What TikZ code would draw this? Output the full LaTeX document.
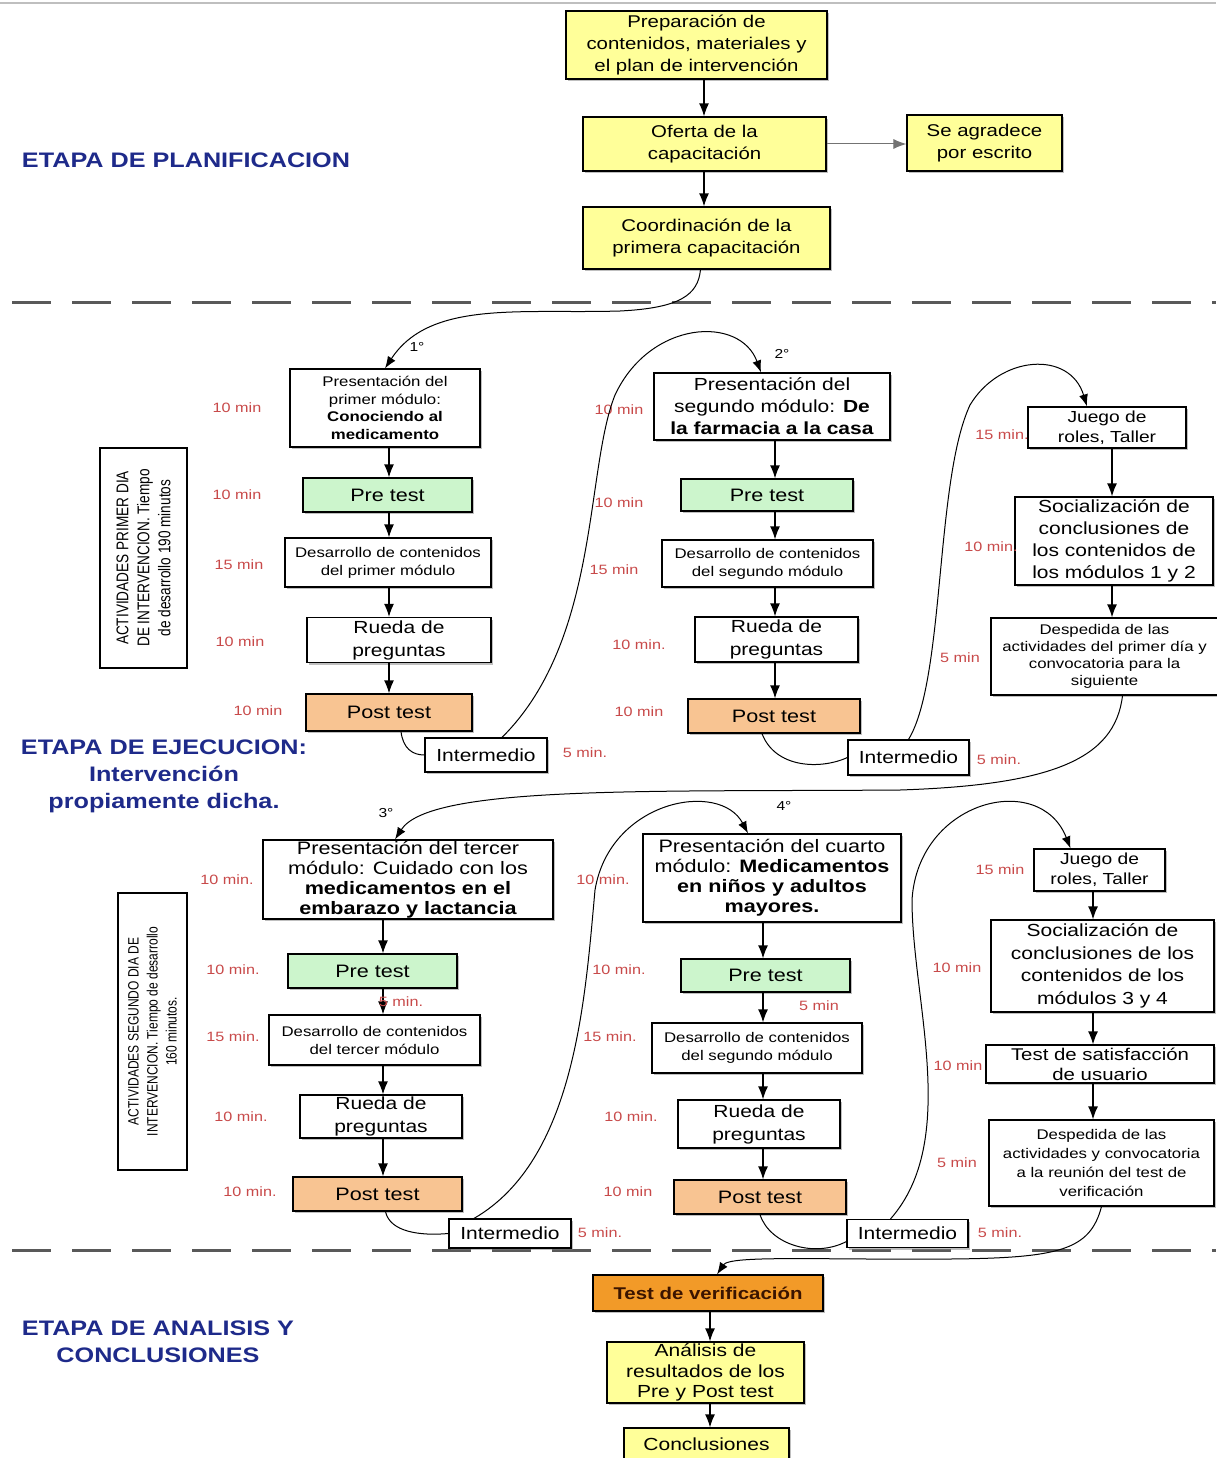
\documentclass[tikz,border=0pt]{standalone}
\usepackage{fontspec}
\setmainfont{Liberation Sans}[FakeStretch=1.2]
\newfontfamily\narrowsf{Liberation Sans}[FakeStretch=0.8]
\usetikzlibrary{arrows.meta,shadows}
\definecolor{yelfill}{HTML}{FFFF99}
\definecolor{grnfill}{HTML}{CCF5CC}
\definecolor{orgfill}{HTML}{F8C492}
\definecolor{tstfill}{HTML}{F29A28}
\definecolor{tsttext}{HTML}{3A1400}
\definecolor{headblue}{HTML}{1E2A8A}
\definecolor{minred}{HTML}{C84A4A}
\newcommand{\tbf}[1]{\textbf{#1}}
\newcommand{\fs}[2]{\fontsize{#1}{#2}\selectfont}

\begin{document}
\begin{tikzpicture}[x=1pt, y=-1pt, >={Latex[length=13pt,width=10pt]},
    box/.style={draw=black, line width=1.2pt, align=center, inner sep=1pt,
      drop shadow={shadow xshift=2pt, shadow yshift=-2pt, fill=black!50}},
    yel/.style={box, fill=yelfill},
    grn/.style={box, fill=grnfill},
    org/.style={box, fill=orgfill},
    wht/.style={box, fill=white},
    flow/.style={->, line width=1.3pt},
    curvearrow/.style={->, line width=1pt, >={Latex[length=12pt,width=9pt]}},
    curveline/.style={line width=1pt},
    tmin/.style={text=minred, font=\fs{13.5}{15}},
    stagehead/.style={text=headblue, align=center, font=\bfseries\fs{21}{27}},
    numlab/.style={font=\fs{13}{15}},
    sepline/.style={draw=black!65, line width=3pt, dash pattern=on 39pt off 21pt},
    sidebox/.style={draw=black, line width=1.1pt, align=center, rotate=90}]
  \useasboundingbox (0,0) rectangle (1216,1458);

  \draw [black!25, line width=2pt] (0,3) -- (1216,3);
  \draw [sepline] (12,302) -- (1216,302);
  \draw [sepline] (12,1250) -- (1216,1250);

  \node [stagehead, name=hplan] at (186,160) {ETAPA DE PLANIFICACION};
  \node [stagehead, name=hejec] at (164,776) {ETAPA DE EJECUCION:\\Intervención\\propiamente dicha.};
  \node [stagehead, name=hanal] at (158,1342) {ETAPA DE ANALISIS Y\\CONCLUSIONES};

  \coordinate (k0) at (704,0);
  \coordinate (k1) at (389,0);
  \coordinate (k2) at (775,0);
  \coordinate (k3) at (1112,0);
  \coordinate (k4) at (383,0);
  \coordinate (k5) at (763,0);
  \coordinate (k6) at (1093,0);
  \coordinate (k7) at (710,0);

  % planificacion
  \node [yel, minimum width=261, minimum height=68, font=\fs{17}{22}, name=prep] at (696.5,45)
    {Preparación de\\contenidos, materiales y\\el plan de intervención};
  \node [yel, minimum width=243, minimum height=54, font=\fs{17}{22}, name=oferta] at (704.5,144)
    {Oferta de la\\capacitación};
  \node [yel, minimum width=155, minimum height=56, font=\fs{17}{22}, name=agrad] at (984.5,143)
    {Se agradece\\por escrito};
  \node [yel, minimum width=247, minimum height=62, font=\fs{17}{22}, name=coord] at (706.5,238)
    {Coordinación de la\\primera capacitación};

  \draw [flow] (prep.south -| k0) -- (oferta.north -| k0);
  \draw [flow] (oferta.south -| k0) -- (coord.north -| k0);
  \draw [->, black!55, line width=1pt] (oferta.east) -- (oferta.east -| agrad.west);

  % primer dia
  \node [sidebox, minimum width=220, minimum height=87, font=\narrowsf\fs{17}{21}, name=side1] at (143.5,558)
    {ACTIVIDADES PRIMER DIA\\DE INTERVENCION. Tiempo\\de desarrollo 190 minutos};

  \node [wht, minimum width=190, minimum height=78, font=\fs{14}{17.5}, name=p1] at (385,408)
    {Presentación del\\primer módulo:\\\tbf{Conociendo al}\\\tbf{medicamento}};
  \node [grn, minimum width=169, minimum height=34, font=\fs{18}{22}, name=pre1] at (387.5,495) {Pre test};
  \node [wht, minimum width=206, minimum height=49, font=\fs{14}{18}, name=des1] at (388,562.5)
    {Desarrollo de contenidos\\del primer módulo};
  \node [wht, minimum width=184, minimum height=45, font=\fs{17.5}{23}, name=rueda1] at (399,640)
    {Rueda de\\preguntas};
  \node [org, minimum width=166, minimum height=37, font=\fs{18}{22}, name=post1] at (389,712.5) {Post test};
  \node [wht, minimum width=122, minimum height=34, font=\fs{17.5}{22}, name=inter1] at (486,755) {Intermedio};

  \node [wht, minimum width=236, minimum height=67, font=\fs{17.5}{22}, name=p2] at (772,406.5)
    {Presentación del\\segundo módulo: \tbf{De}\\\tbf{la farmacia a la casa}};
  \node [grn, minimum width=172, minimum height=32, font=\fs{18}{22}, name=pre2] at (767,495) {Pre test};
  \node [wht, minimum width=211, minimum height=47, font=\fs{14}{18}, name=des2] at (767.5,563.5)
    {Desarrollo de contenidos\\del segundo módulo};
  \node [wht, minimum width=163, minimum height=45, font=\fs{17.5}{23}, name=rueda2] at (776.5,639.5)
    {Rueda de\\preguntas};
  \node [org, minimum width=172, minimum height=34, font=\fs{18}{22}, name=post2] at (774,716) {Post test};
  \node [wht, minimum width=121, minimum height=35, font=\fs{17.5}{22}, name=inter2] at (908.5,757.5) {Intermedio};

  \node [wht, minimum width=158, minimum height=41, font=\fs{16}{20}, name=juego1] at (1107,427.5)
    {Juego de\\roles, Taller};
  \node [wht, minimum width=198, minimum height=88, font=\fs{17.5}{22}, name=soc1] at (1114,541)
    {Socialización de\\conclusiones de\\los contenidos de\\los módulos 1 y 2};
  \node [wht, minimum width=227, minimum height=77, font=\fs{14}{17}, name=desp1] at (1104.5,656.5)
    {Despedida de las\\actividades del primer día y\\convocatoria para la\\siguiente};

  \draw [flow] (p1.south -| k1) -- (pre1.north -| k1);
  \draw [flow] (pre1.south -| k1) -- (des1.north -| k1);
  \draw [flow] (des1.south -| k1) -- (rueda1.north -| k1);
  \draw [flow] (rueda1.south -| k1) -- (post1.north -| k1);
  \draw [flow] (p2.south -| k2) -- (pre2.north -| k2);
  \draw [flow] (pre2.south -| k2) -- (des2.north -| k2);
  \draw [flow] (des2.south -| k2) -- (rueda2.north -| k2);
  \draw [flow] (rueda2.south -| k2) -- (post2.north -| k2);
  \draw [flow] (juego1.south -| k3) -- (soc1.north -| k3);
  \draw [flow] (soc1.south -| k3) -- (desp1.north -| k3);

  \node [tmin, name=m1a] at (237,408) {10 min};
  \node [tmin, name=m1b] at (237,495) {10 min};
  \node [tmin, name=m1c] at (239,565) {15 min};
  \node [tmin, name=m1d] at (240,642) {10 min};
  \node [tmin, name=m1e] at (258,711) {10 min};
  \node [tmin, name=m1f] at (585,753) {5 min.};
  \node [tmin, name=m2a] at (619,410) {10 min};
  \node [tmin, name=m2b] at (619,503) {10 min};
  \node [tmin, name=m2c] at (614,570) {15 min};
  \node [tmin, name=m2d] at (639,645) {10 min.};
  \node [tmin, name=m2e] at (639,712) {10 min};
  \node [tmin, name=m2f] at (999,760) {5 min.};
  \node [tmin, name=m3a] at (1002,435) {15 min.};
  \node [tmin, name=m3b] at (991,547) {10 min.};
  \node [tmin, name=m3c] at (960,658) {5 min};

  % segundo dia
  \node [sidebox, minimum width=277, minimum height=69, font=\narrowsf\fs{15}{19}, name=side2] at (152.5,1031.5)
    {ACTIVIDADES SEGUNDO DIA DE\\INTERVENCION. Tiempo de desarrollo\\160 minutos.};

  \node [wht, minimum width=290, minimum height=79, font=\fs{18}{20}, name=p3] at (408,879.5)
    {Presentación del tercer\\módulo: Cuidado con los\\\tbf{medicamentos en el}\\\tbf{embarazo y lactancia}};
  \node [grn, minimum width=169, minimum height=34, font=\fs{18}{22}, name=pre3] at (372.5,971) {Pre test};
  \node [wht, minimum width=211, minimum height=50, font=\fs{14}{18}, name=des3] at (374.5,1040)
    {Desarrollo de contenidos\\del tercer módulo};
  \node [wht, minimum width=162, minimum height=43, font=\fs{17.5}{23}, name=rueda3] at (381,1116.5)
    {Rueda de\\preguntas};
  \node [org, minimum width=169, minimum height=34, font=\fs{18}{22}, name=post3] at (377.5,1194) {Post test};
  \node [wht, minimum width=122, minimum height=29, font=\fs{17.5}{22}, name=inter3] at (510,1233.5) {Intermedio};

  \node [wht, minimum width=258, minimum height=88, font=\fs{18}{20}, name=p4] at (772,878)
    {Presentación del cuarto\\módulo: \tbf{Medicamentos}\\\tbf{en niños y adultos}\\\tbf{mayores.}};
  \node [grn, minimum width=169, minimum height=33, font=\fs{18}{22}, name=pre4] at (765.5,975.5) {Pre test};
  \node [wht, minimum width=210, minimum height=50, font=\fs{14}{18}, name=des4] at (757,1048)
    {Desarrollo de contenidos\\del segundo módulo};
  \node [wht, minimum width=162, minimum height=48, font=\fs{17.5}{23}, name=rueda4] at (759,1124)
    {Rueda de\\preguntas};
  \node [org, minimum width=172, minimum height=34, font=\fs{18}{22}, name=post4] at (760,1197) {Post test};
  \node [wht, minimum width=121, minimum height=28, font=\fs{17.5}{22}, name=inter4] at (907.5,1233.5) {Intermedio};

  \node [wht, minimum width=131, minimum height=42, font=\fs{16}{20}, name=juego2] at (1099.5,870)
    {Juego de\\roles, Taller};
  \node [wht, minimum width=223, minimum height=92, font=\fs{17.5}{22.5}, name=soc2] at (1102.5,966)
    {Socialización de\\conclusiones de los\\contenidos de los\\módulos 3 y 4};
  \node [wht, minimum width=228, minimum height=38, font=\fs{17}{20}, name=sat] at (1100,1064)
    {Test de satisfacción\\de usuario};
  \node [wht, minimum width=225, minimum height=86, font=\fs{14}{19}, name=desp2] at (1101.5,1163)
    {Despedida de las\\actividades y convocatoria\\a la reunión del test de\\verificación};

  \draw [flow] (p3.south -| k4) -- (pre3.north -| k4);
  \draw [flow] (pre3.south -| k4) -- (des3.north -| k4);
  \draw [flow] (des3.south -| k4) -- (rueda3.north -| k4);
  \draw [flow] (rueda3.south -| k4) -- (post3.north -| k4);
  \draw [flow] (p4.south -| k5) -- (pre4.north -| k5);
  \draw [flow] (pre4.south -| k5) -- (des4.north -| k5);
  \draw [flow] (des4.south -| k5) -- (rueda4.north -| k5);
  \draw [flow] (rueda4.south -| k5) -- (post4.north -| k5);
  \draw [flow] (juego2.south -| k6) -- (soc2.north -| k6);
  \draw [flow] (soc2.south -| k6) -- (sat.north -| k6);
  \draw [flow] (sat.south -| k6) -- (desp2.north -| k6);

  \node [tmin, name=m4a] at (227,880) {10 min.};
  \node [tmin, name=m4b] at (233,970) {10 min.};
  \node [tmin, name=m4g] at (401,1002) {5 min.};
  \node [tmin, name=m4c] at (233,1037) {15 min.};
  \node [tmin, name=m4d] at (241,1117) {10 min.};
  \node [tmin, name=m4e] at (250,1192) {10 min.};
  \node [tmin, name=m4f] at (600,1233) {5 min.};
  \node [tmin, name=m5a] at (603,880) {10 min.};
  \node [tmin, name=m5b] at (619,970) {10 min.};
  \node [tmin, name=m5g] at (819,1006) {5 min};
  \node [tmin, name=m5c] at (610,1037) {15 min.};
  \node [tmin, name=m5d] at (631,1117) {10 min.};
  \node [tmin, name=m5e] at (628,1192) {10 min};
  \node [tmin, name=m5f] at (1000,1233) {5 min.};
  \node [tmin, name=m6a] at (1000,870) {15 min};
  \node [tmin, name=m6b] at (957,968) {10 min};
  \node [tmin, name=m6c] at (958,1066) {10 min};
  \node [tmin, name=m6d] at (957,1163) {5 min};

  % analisis
  \node [box, fill=tstfill, minimum width=230, minimum height=36, text=tsttext,
    font=\bfseries\fs{17}{20}, name=test] at (708,1293) {Test de verificación};
  \node [yel, minimum width=197, minimum height=61, font=\fs{17.5}{20.5}, name=analisis] at (705.5,1372.5)
    {Análisis de\\resultados de los\\Pre y Post test};
  \node [yel, minimum width=165, minimum height=32, font=\fs{17.5}{20}, name=concl] at (706.5,1444) {Conclusiones};

  \draw [flow] (test.south -| k7) -- (analisis.north -| k7);
  \draw [flow] (analisis.south -| k7) -- (concl.north -| k7);

  % recorrido
  \node [numlab, name=n1] at (417,347) {1°};
  \node [numlab, name=n2] at (782,354) {2°};
  \node [numlab, name=n3] at (386,813) {3°};
  \node [numlab, name=n4] at (784,806) {4°};

  \draw [curvearrow] ([xshift=-6pt]coord.south) .. controls (698,295) and (680,308) .. (620,311)
    .. controls (520,314) and (430,300) .. (p1.north);
  \draw [curveline] ([xshift=12pt]post1.south) .. controls (403,748) and (412,755) .. (inter1.west);
  \draw [curvearrow] ([xshift=16pt]inter1.north) .. controls (600,640) and (585,470) .. (615,395)
    .. controls (650,320) and (740,315) .. ([xshift=-11pt]p2.north);
  \draw [curveline] ([xshift=-12pt]post2.south) .. controls (775,768) and (820,770) .. (inter2.west);
  \draw [curvearrow] (inter2.north) .. controls (945,680) and (935,480) .. (970,405)
    .. controls (1000,355) and (1070,350) .. ([xshift=-20pt]juego1.north);
  \draw [curvearrow] ([xshift=18pt]desp1.south) .. controls (1115,760) and (1050,785) .. (900,790)
    .. controls (650,792) and (430,785) .. ([xshift=-13pt]p3.north);
  \draw [curveline] ([xshift=8pt]post3.south) .. controls (390,1232) and (420,1236) .. (inter3.west);
  \draw [curvearrow] ([xshift=-36pt]inter3.north) .. controls (575,1160) and (585,1000) .. (595,890)
    .. controls (610,800) and (720,780) .. ([xshift=-24pt]p4.north);
  \draw [curveline] (post4.south) .. controls (770,1245) and (815,1258) .. ([yshift=-8pt]inter4.west);
  \draw [curvearrow] ([xshift=-17pt]inter4.north) .. controls (960,1140) and (912,1000) .. (912,900)
    .. controls (918,800) and (1040,770) .. ([xshift=-29pt]juego2.north);
  \draw [curvearrow] (desp2.south) .. controls (1090,1250) and (1060,1258) .. (950,1259)
    .. controls (820,1260) and (730,1255) .. ([xshift=9pt]test.north);
\end{tikzpicture}
\end{document}
